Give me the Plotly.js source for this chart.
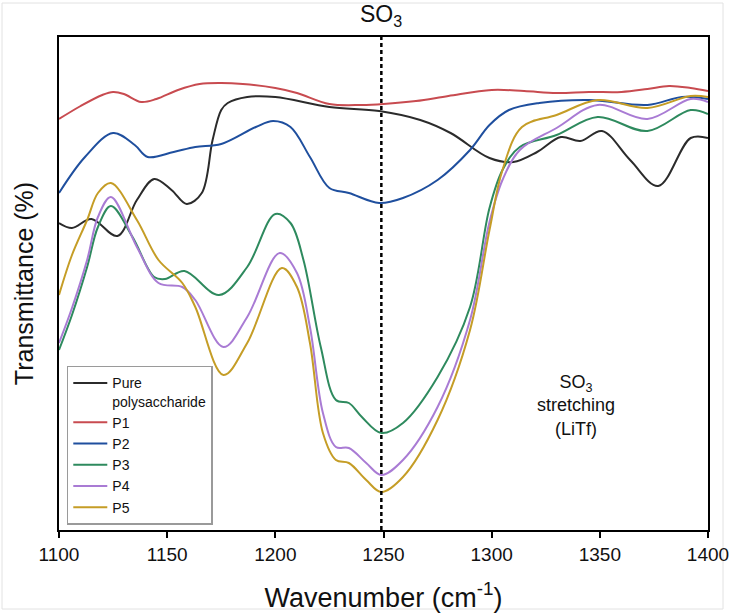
<!DOCTYPE html>
<html>
<head>
<meta charset="utf-8">
<script src="https://cdn.plot.ly/plotly-3.0.1.min.js"></script>
<style>html,body{margin:0;padding:0;background:#fff;}#chart{width:733px;height:613px;}</style>
</head>
<body>
<div id="chart"></div>
<script>
// Wavenumber (cm-1) and transmittance (arbitrary units)
const pureX = [1100,1106,1115,1127,1136,1144,1152,1159,1166,1171,1175,1178,1187,1200,1225,1248,1267,1281,1299,1310,1321,1332,1341,1351,1364,1377,1392,1400];
const pureY = [307,302,311,294,330,351,340,326,337,390,420,427,433,433,423,419,410,397,372,368,378,393,389,399,370,344,392,392];

const p1X = [1100,1110,1120,1125,1130,1138,1145,1155,1165,1175,1185,1200,1210,1225,1240,1250,1265,1280,1300,1315,1330,1345,1360,1372,1382,1392,1400];
const p1Y = [411,424,435,438,436,428,431,440,446,447,446,442,437,426,425,426,429,434,440,439,437,438,438,441,444,442,439];

const p2X = [1100,1112,1125,1135,1141,1153,1163,1175,1191,1199,1207,1216,1225,1234,1248,1259,1275,1290,1299,1308,1322,1345,1372,1388,1400];
const p2Y = [337,373,397,385,373,378,383,386,403,409,403,373,342,337,327,332,350,380,405,420,427,430,425,433,431];

const p3X = [1100,1106,1113,1118,1124,1134,1144,1149,1158,1174,1187,1200,1207,1213,1221,1228,1234,1240,1249,1259,1275,1290,1299,1305,1313,1330,1349,1372,1392,1400];
const p3Y = [180,215,263,303,324,293,253,251,259,235,263,316,307,270,183,130,127,113,97,107,153,223,322,360,383,395,413,399,420,416];

const p4X = [1100,1106,1113,1118,1124,1136,1146,1157,1163,1176,1187,1202,1210,1216,1222,1228,1234,1242,1249,1259,1275,1290,1299,1305,1313,1330,1349,1372,1392,1400];
const p4Y = [187,222,270,313,333,283,247,243,230,183,213,277,257,203,117,83,82,67,55,70,123,210,308,350,380,402,425,411,431,428];

const p5X = [1100,1106,1113,1118,1124,1136,1146,1157,1163,1176,1187,1203,1210,1216,1222,1228,1234,1242,1249,1259,1275,1290,1299,1305,1314,1330,1349,1372,1392,1400];
const p5Y = [235,275,310,337,347,310,270,247,223,155,187,262,243,187,97,70,67,50,38,53,110,200,300,360,403,415,430,422,434,433];

const seriesNames = ["Pure<br>polysaccharide","P1","P2","P3","P4","P5"];
const seriesColors = ["#2b2b2b","#c84b50","#1f4f9e","#2e8a5e","#a97bd4","#c59d26"];
const xs = [pureX,p1X,p2X,p3X,p4X,p5X];
const ys = [pureY,p1Y,p2Y,p3Y,p4Y,p5Y];

const markerX = 1249;
const xTicks = [1100,1150,1200,1250,1300,1350,1400];

const FONT = "Arial, 'Liberation Sans', sans-serif";

const traces = xs.map((x,i)=>({
  x: x, y: ys[i], name: seriesNames[i], type: "scatter", mode: "lines",
  line: {color: seriesColors[i], width: 2, shape: "spline", smoothing: 1}
}));

const layout = {
  width: 733, height: 613,
  margin: {l: 59, r: 25, t: 37, b: 83},
  paper_bgcolor: "#fff", plot_bgcolor: "#fff",
  font: {family: FONT, color: "#111"},
  showlegend: true,
  legend: {
    x: 0.012, y: 0.333, xanchor: "left", yanchor: "top",
    bgcolor: "#fff", bordercolor: "#9a9a9a", borderwidth: 1.5,
    font: {family: FONT, size: 14, color: "#111"},
    valign: "top", itemwidth: 34, tracegroupgap: 0
  },
  xaxis: {
    range: [1100, 1400], tickvals: xTicks, ticktext: xTicks.map(String),
    ticks: "outside", ticklen: 6, tickwidth: 2, tickcolor: "#000",
    showline: true, linecolor: "#000", linewidth: 2, mirror: true,
    showgrid: false, zeroline: false,
    tickfont: {family: FONT, size: 19, color: "#111"},
    title: {text: "Wavenumber (cm<sup>-1</sup>)", font: {family: FONT, size: 27, color: "#111"}, standoff: 24}
  },
  yaxis: {
    range: [0, 493], showticklabels: false, ticks: "",
    showline: true, linecolor: "#000", linewidth: 2, mirror: true,
    showgrid: false, zeroline: false,
    title: {text: "Transmittance (%)", font: {family: FONT, size: 25, color: "#111"}, standoff: 16}
  },
  shapes: [
    {type: "rect", xref: "paper", yref: "paper", layer: "below",
     x0: (2-59)/649, x1: (723-59)/649, y0: (530-609)/493, y1: (530-3)/493,
     line: {color: "#e2e2e2", width: 1}},
    {type: "line", xref: "x", yref: "paper", x0: markerX, x1: markerX, y0: 0, y1: 1,
     line: {color: "#000", width: 2.5, dash: "4px,3px"}}
  ],
  annotations: [
    {xref: "x", yref: "paper", x: markerX, y: 1, yanchor: "bottom", yshift: 5,
     text: "SO<sub>3</sub>", showarrow: false, font: {family: FONT, size: 23, color: "#111"}},
    {xref: "x", yref: "paper", x: 1339, y: (530-405)/493, xanchor: "center", yanchor: "middle",
     text: "SO<sub>3</sub><br>stretching<br>(LiTf)", showarrow: false, align: "center",
     font: {family: FONT, size: 18, color: "#111"}}
  ]
};

Plotly.newPlot("chart", traces, layout, {displayModeBar: false, staticPlot: true});
</script>
</body>
</html>
